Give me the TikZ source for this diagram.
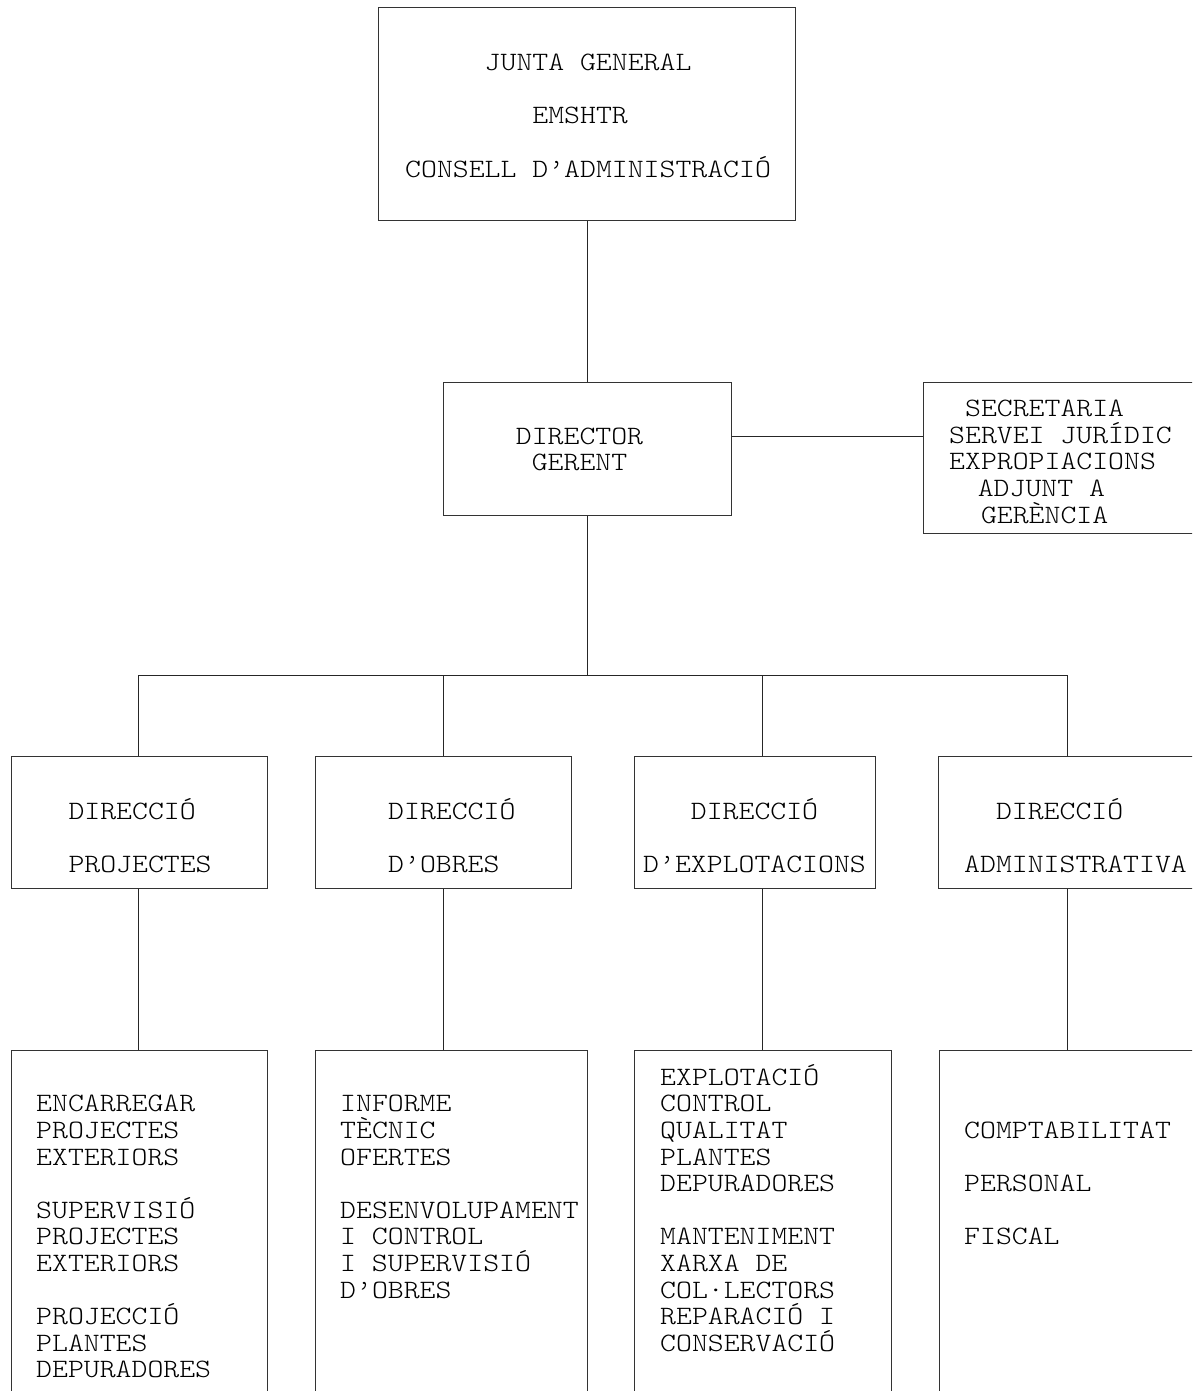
\documentclass[tikz,border=0pt]{standalone}
\usepackage{fontspec}
\setmainfont[FakeStretch=1.143]{Latin Modern Mono Light}
\usetikzlibrary{calc}
\newlength\cw \setlength\cw{15.9pt}
\newcommand\tx[1]{\vtop{\baselineskip=26.6pt\lineskiplimit=-100pt\lineskip=0pt #1}}
\newcommand\rl[2][0]{\hbox{\hskip #1\cw #2}}
\tikzset{
  box/.style={draw=black!80, line width=1pt, rectangle, inner sep=0pt, anchor=north west},
  txt/.style={inner sep=0pt, anchor=base west, font=\fontsize{26.5}{26.5}\selectfont, text=black},
  link/.style={draw=black!85, line width=1pt}
}
\begin{document}
\begin{tikzpicture}[x=1pt, y=-1pt]
\useasboundingbox (0,0) rectangle (1192,1391);
\begin{scope}
\clip (0,0) rectangle (1192,1391);
% boxes
\node[box, minimum width=417pt, minimum height=213pt] (top) at (378,7) {};
\node[box, minimum width=288pt, minimum height=133.3pt] (dir) at (442.7,381.7) {};
\node[box, minimum width=290pt, minimum height=151pt] (sec) at (922.7,382) {};
\node[box, minimum width=256pt, minimum height=132.3pt] (d1) at (11,755.7) {};
\node[box, minimum width=256pt, minimum height=132.3pt] (d2) at (315,755.7) {};
\node[box, minimum width=241pt, minimum height=132.3pt] (d3) at (634,755.7) {};
\node[box, minimum width=258pt, minimum height=132.3pt] (d4) at (938,755.7) {};
\node[box, minimum width=256pt, minimum height=380pt] (e1) at (11,1050) {};
\node[box, minimum width=272pt, minimum height=380pt] (e2) at (315,1050) {};
\node[box, minimum width=257pt, minimum height=380pt] (e3) at (634,1050) {};
\node[box, minimum width=258pt, minimum height=380pt] (e4) at (939,1050) {};
% texts
\node[txt] (ttop) at (405,70.7) {\tx{\rl[5]{JUNTA GENERAL}\rl{}\rl[8]{EMSHTR}\rl{}\rl{CONSELL D'ADMINISTRACIÓ}}};
\node[txt] (tdir) at (515.7,444) {\tx{\rl{DIRECTOR}\rl[1]{GERENT}}};
\node[txt] (tsec) at (949,416.7) {\tx{\rl[1]{SECRETARIA}\rl{SERVEI JURÍDIC}\rl{EXPROPIACIONS}\rl[1.8]{ADJUNT A}\rl[2]{GERÈNCIA}}};
\node[txt] (td1) at (68.3,819) {\tx{\rl{DIRECCIÓ}\rl{}\rl{PROJECTES}}};
\node[txt] (td2) at (388,819) {\tx{\rl{DIRECCIÓ}\rl{}\rl{D'OBRES}}};
\node[txt] (td3) at (643,819) {\tx{\rl[3]{DIRECCIÓ}\rl{}\rl{D'EXPLOTACIONS}}};
\node[txt] (td4) at (964,819) {\tx{\rl[2]{DIRECCIÓ}\rl{}\rl{ADMINISTRATIVA}}};
\node[txt] (te1) at (36,1111.9) {\tx{\rl{ENCARREGAR}\rl{PROJECTES}\rl{EXTERIORS}\rl{}\rl{SUPERVISIÓ}\rl{PROJECTES}\rl{EXTERIORS}\rl{}\rl{PROJECCIÓ}\rl{PLANTES}\rl{DEPURADORES}}};
\node[txt] (te2) at (340,1111.9) {\tx{\rl{INFORME}\rl{TÈCNIC}\rl{OFERTES}\rl{}\rl{DESENVOLUPAMENT}\rl{I CONTROL}\rl{I SUPERVISIÓ}\rl{D'OBRES}}};
\node[txt] (te3) at (660,1085.3) {\tx{\rl{EXPLOTACIÓ}\rl{CONTROL}\rl{QUALITAT}\rl{PLANTES}\rl{DEPURADORES}\rl{}\rl{MANTENIMENT}\rl{XARXA DE}\rl{COL·LECTORS}\rl{REPARACIÓ I}\rl{CONSERVACIÓ}}};
\node[txt] (te4) at (964,1138.5) {\tx{\rl{COMPTABILITAT}\rl{}\rl{PERSONAL}\rl{}\rl{FISCAL}}};
% connectors
\coordinate (dj) at ($(dir.north east)!0.405!(dir.south east)$);
\coordinate (b1) at (138.7,675);
\coordinate (b2) at (443,675);
\coordinate (b3) at (762.7,675);
\coordinate (b4) at (1067,675);
\path[link] (top.south) -- (top.south |- dir.north);
\path[link] (dj) -- (dj -| sec.west);
\path[link] (dir.south) -- (dir.south |- b1);
\path[link] (b1) -- (b4);
\foreach \i in {1,2,3,4} {
  \path[link] (b\i) -- (b\i |- d\i.north);
  \path[link] (b\i |- d\i.south) -- (b\i |- e\i.north);
}
\end{scope}
\end{tikzpicture}
\end{document}
